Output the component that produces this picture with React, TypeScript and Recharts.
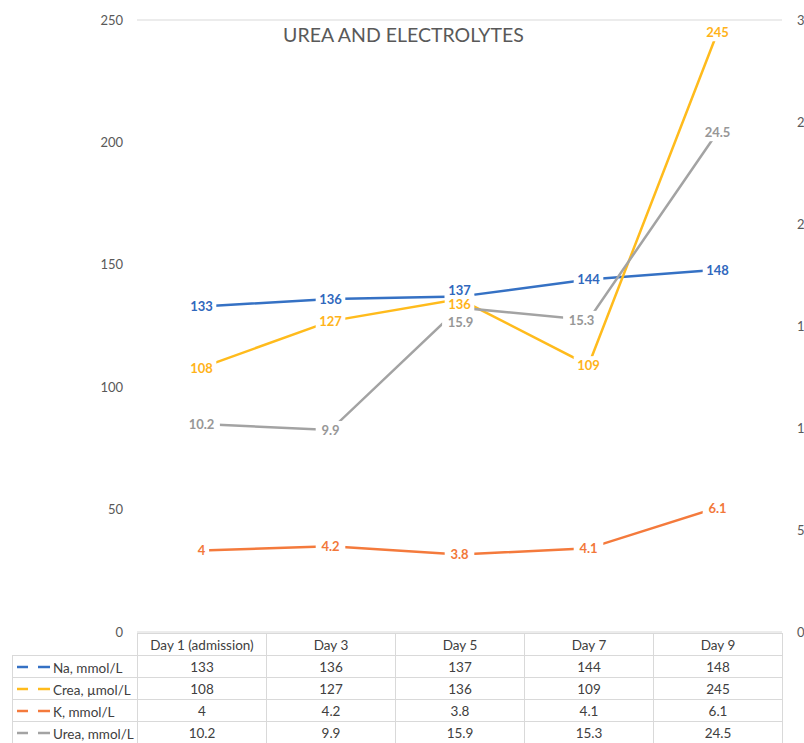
import { LineChart, Line, XAxis, YAxis, CartesianGrid, LabelList } from 'recharts';

const categories = ['Day 1 (admission)', 'Day 3', 'Day 5', 'Day 7', 'Day 9'];
const na = [133, 136, 137, 144, 148];
const crea = [108, 127, 136, 109, 245];
const k = [4, 4.2, 3.8, 4.1, 6.1];
const urea = [10.2, 9.9, 15.9, 15.3, 24.5];

const leftTicks = [0, 50, 100, 150, 200, 250];
const rightTicks = [0, 5, 10, 15, 20, 25, 30];

const SERIES = [
  { key: 'na', name: 'Na, mmol/L', color: '#3571c4', axis: 'left', values: na, labelColor: '#3068bd' },
  { key: 'crea', name: 'Crea, µmol/L', color: '#ffbb1c', axis: 'left', values: crea, labelColor: '#ffb31a' },
  { key: 'k', name: 'K, mmol/L', color: '#f47a3c', axis: 'right', values: k, labelColor: '#f2783a' },
  { key: 'urea', name: 'Urea, mmol/L', color: '#a3a3a3', axis: 'right', values: urea, labelColor: '#979797' },
];

// manual nudges where labels would overlap (series key -> index -> [dx, dy])
const NUDGE: Record<string, Record<number, [number, number]>> = {
  na: { 2: [0, -7] },
  crea: { 2: [0, 5] },
  urea: { 2: [1, 14], 3: [-7, 0] },
};

const data = categories.map((c, i) => ({
  name: c,
  na: na[i],
  crea: crea[i],
  k: k[i],
  urea: urea[i],
}));

const FONT = 'Lato, "Open Sans", sans-serif';
const COL_W = 129;
const PLOT_LEFT = 137;

function makeLabel(seriesKey: string, color: string) {
  return (props: any) => {
    const { x, y, value, index } = props;
    const [dx, dy] = NUDGE[seriesKey]?.[index] ?? [0, 0];
    const text = String(value);
    const w = text.length * 7.2 + 8;
    const cx = x + dx;
    const cy = y + dy;
    return (
      <g>
        <rect x={cx - w / 2} y={cy - 9} width={w} height={18} fill="#ffffff" />
        <text
          x={cx}
          y={cy}
          textAnchor="middle"
          dominantBaseline="central"
          fill={color}
          fontSize={13}
          fontWeight={700}
          fontFamily={FONT}
        >
          {text}
        </text>
      </g>
    );
  };
}

const cellStyle: React.CSSProperties = {
  border: '1px solid #d9d9d9',
  textAlign: 'center',
  padding: 0,
  height: 21,
  fontSize: 13.5,
  color: '#404040',
  whiteSpace: 'nowrap',
  overflow: 'hidden',
};

export default function App() {
  return (
    <div
      style={{
        position: 'absolute',
        left: 0,
        top: 0,
        width: 804,
        height: 743,
        overflow: 'hidden',
        background: '#fff',
        fontFamily: FONT,
      }}
    >
      <LineChart width={804} height={640} data={data} margin={{ top: 20, right: 0, bottom: 8, left: 0 }}>
        <CartesianGrid horizontal vertical={false} stroke="#d9d9d9" strokeWidth={1} />
        <XAxis dataKey="name" hide padding={{ left: COL_W / 2, right: COL_W / 2 }} />
        <YAxis
          yAxisId="left"
          domain={[0, 250]}
          ticks={leftTicks}
          width={PLOT_LEFT}
          axisLine={false}
          tickLine={false}
          tickMargin={8}
          tick={{ fill: '#595959', fontSize: 13, fontFamily: FONT }}
        />
        <YAxis
          yAxisId="right"
          orientation="right"
          domain={[0, 30]}
          ticks={rightTicks}
          width={22}
          axisLine={false}
          tickLine={false}
          tickMargin={9}
          tick={{ fill: '#595959', fontSize: 13, fontFamily: FONT, textAnchor: 'start' }}
        />
        {SERIES.map((s) => (
          <Line
            key={s.key}
            yAxisId={s.axis}
            dataKey={s.key}
            stroke={s.color}
            strokeWidth={2.5}
            dot={false}
            activeDot={false}
            isAnimationActive={false}
          />
        ))}
        {SERIES.map((s) => (
          <Line
            key={s.key + '-labels'}
            yAxisId={s.axis}
            dataKey={s.key}
            stroke="none"
            dot={false}
            activeDot={false}
            legendType="none"
            isAnimationActive={false}
          >
            <LabelList dataKey={s.key} content={makeLabel(s.key, s.labelColor)} />
          </Line>
        ))}
      </LineChart>

      <div
        style={{
          position: 'absolute',
          left: 0,
          top: 23,
          width: 807,
          textAlign: 'center',
          fontSize: 19.5,
          color: '#595959',
        }}
      >
        UREA AND ELECTROLYTES
      </div>

      <table
        style={{
          position: 'absolute',
          left: 12,
          top: 633,
          borderCollapse: 'collapse',
          tableLayout: 'fixed',
          fontFamily: FONT,
        }}
      >
        <colgroup>
          <col style={{ width: PLOT_LEFT - 12 }} />
          {categories.map((c) => (
            <col key={c} style={{ width: COL_W }} />
          ))}
        </colgroup>
        <tbody>
          <tr>
            <td style={{ ...cellStyle, border: 'none', borderRight: '1px solid #d9d9d9', borderBottom: '1px solid #d9d9d9' }} />
            {categories.map((c) => (
              <td key={c} style={cellStyle}>
                {c}
              </td>
            ))}
          </tr>
          {SERIES.map((s) => (
            <tr key={s.key}>
              <td style={{ ...cellStyle, textAlign: 'left', paddingLeft: 4 }}>
                <svg width={36} height={10} style={{ verticalAlign: 'middle' }}>
                  <line x1={0} y1={5} x2={11} y2={5} stroke={s.color} strokeWidth={2.5} />
                  <line x1={21} y1={5} x2={33} y2={5} stroke={s.color} strokeWidth={2.5} />
                </svg>
                <span style={{ verticalAlign: 'middle' }}>{s.name}</span>
              </td>
              {s.values.map((v, i) => (
                <td key={i} style={cellStyle}>
                  {v}
                </td>
              ))}
            </tr>
          ))}
        </tbody>
      </table>
    </div>
  );
}
